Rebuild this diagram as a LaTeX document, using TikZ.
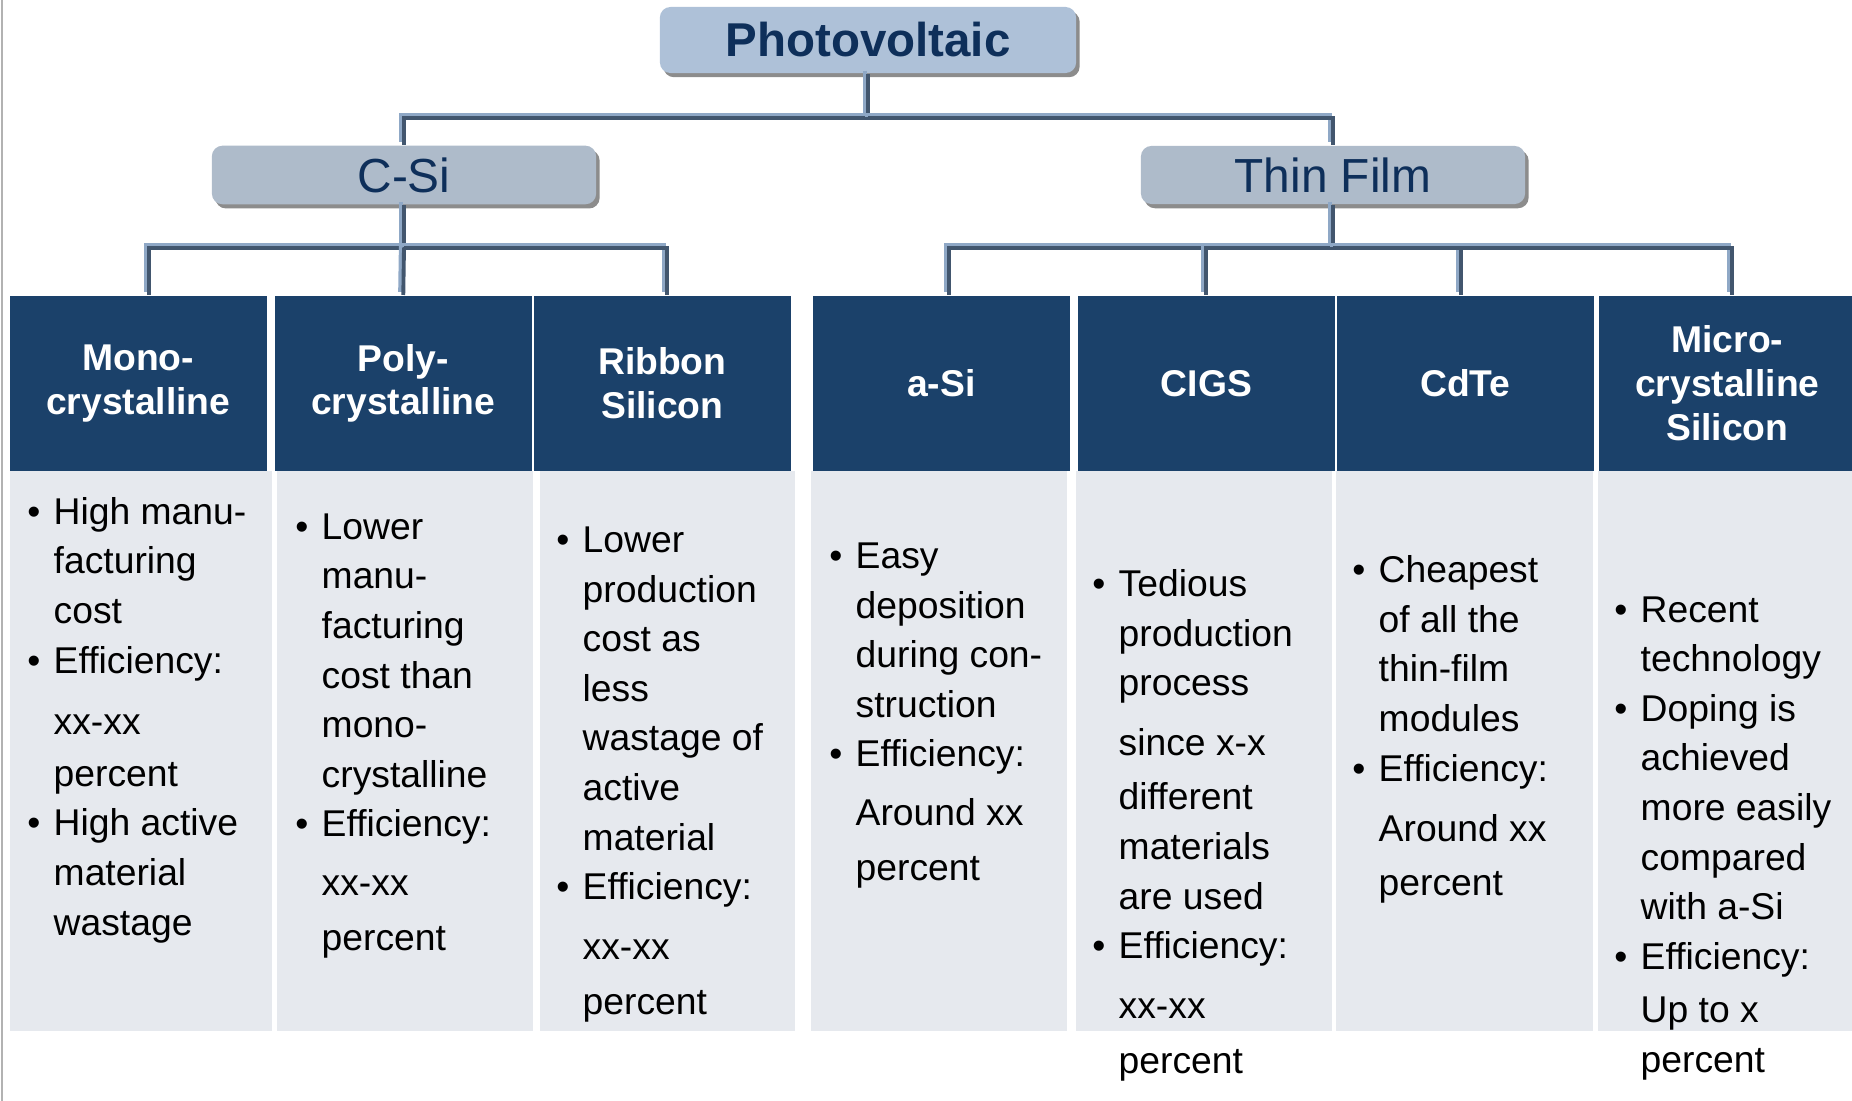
\documentclass[tikz,border=0pt]{standalone}
\usepackage{fontspec}
\setmainfont{Liberation Sans}
\usetikzlibrary{positioning,shadows}

\definecolor{pvnavy}{HTML}{1B416A}
\definecolor{pvtext}{HTML}{0E2F5A}
\definecolor{pvroot}{HTML}{AEC1D8}
\definecolor{pvgroup}{HTML}{AEBBCA}
\definecolor{pvbody}{HTML}{E6E9EE}
\definecolor{pvlinkhi}{HTML}{8FA8C6}
\definecolor{pvlinklo}{HTML}{42566E}

\newcommand{\pvitem}{\llap{\textbullet\hspace{3.8pt}}}

\begin{document}
\begin{tikzpicture}[
  x=0.01cm, y=-0.01cm,
  rootbox/.style={rectangle, rounded corners=3pt, fill=pvroot, text=pvtext, minimum width=4.16cm, minimum height=0.66cm, font=\bfseries\fontsize{13.5pt}{15pt}\selectfont, drop shadow={shadow xshift=1pt, shadow yshift=-1.2pt, fill=black!45, opacity=1}},
  groupbox/.style={rootbox, fill=pvgroup, minimum width=3.84cm, minimum height=0.51cm, font=\fontsize{13.6pt}{15pt}\selectfont},
  headbox/.style={rectangle, fill=pvnavy, text=white, anchor=north west, inner sep=0pt, minimum width=2.57cm, minimum height=1.75cm, align=center, font=\bfseries\fontsize{10.6pt}{12.4pt}\selectfont},
  bodybox/.style={rectangle, fill=pvbody, anchor=north west, inner sep=0pt, minimum width=2.57cm, minimum height=5.6cm},
  bodytext/.style={anchor=base west, align=left, inner sep=0pt, font=\fontsize{10.6pt}{14.1pt}\selectfont},
  link/.style={draw=pvlinklo, line width=1.1pt, preaction={draw=pvlinkhi, line width=1.1pt, transform canvas={xshift=-0.9pt, yshift=0.9pt}}}
]
  \useasboundingbox (0,0) rectangle (1852,1101);
  \draw[gray!60, line width=0.6pt] (2,0) -- (2,1101);

  % top levels
  \node[rootbox] (pv) at (868,40) {Photovoltaic};
  \node[groupbox] (csi) at (404,175) {C-Si};
  \node[groupbox] (tf) at (1333,175) {Thin Film};

  % column heads
  \node[headbox] (mono) at (9,295) {Mono-\\crystalline};
  \node[headbox] (poly) at (274,295) {Poly-\\crystalline};
  \node[headbox] (ribbon) at (533,295) {Ribbon\\Silicon};
  \node[headbox] (asi) at (812,295) {a-Si};
  \node[headbox] (cigs) at (1077,295) {CIGS};
  \node[headbox] (cdte) at (1336,295) {CdTe};
  \node[headbox] (micro) at (1598,295) {Micro-\\crystalline\\Silicon};

  % column bodies
  \node[bodybox, minimum width=2.62cm] (monobody) at (9,470) {};
  \node[bodybox, minimum width=2.56cm] (polybody) at (276,470) {};
  \node[bodybox, minimum width=2.55cm] (ribbonbody) at (539,470) {};
  \node[bodybox, minimum width=2.56cm] (asibody) at (810,470) {};
  \node[bodybox, minimum width=2.56cm] (cigsbody) at (1075,470) {};
  \node[bodybox, minimum width=2.57cm] (cdtebody) at (1335,470) {};
  \node[bodybox] (microbody) at (1597,470) {};

  % texts sit on the baseline of their last line
  \node[bodytext] (monotxt) at (53,935) {\pvitem High manu-\\facturing\\cost\\\pvitem Efficiency:\\[3.3pt]xx-xx\\[0.7pt]percent\\\pvitem High active\\material\\wastage};
  \node[bodytext] (polytxt) at (321,950) {\pvitem Lower\\manu-\\facturing\\cost than\\mono-\\crystalline\\\pvitem Efficiency:\\[2.7pt]xx-xx\\[1.3pt]percent};
  \node[bodytext] (ribbontxt) at (582,1014) {\pvitem Lower\\production\\cost as\\less\\wastage of\\active\\material\\\pvitem Efficiency:\\[3pt]xx-xx\\[1.3pt]percent};
  \node[bodytext] (asitxt) at (855,880) {\pvitem Easy\\deposition\\during con-\\struction\\\pvitem Efficiency:\\[2.7pt]Around xx\\[1.3pt]percent};
  \node[bodytext] (cigstxt) at (1118,1073) {\pvitem Tedious\\production\\process\\[3pt]since x-x\\[1.3pt]different\\materials\\are used\\\pvitem Efficiency:\\[3pt]xx-xx\\[1.3pt]percent};
  \node[bodytext] (cdtetxt) at (1378,896) {\pvitem Cheapest\\of all the\\thin-film\\modules\\\pvitem Efficiency:\\[3pt]Around xx\\[1.5pt]percent};
  \node[bodytext] (microtxt) at (1640,1072) {\pvitem Recent\\technology\\\pvitem Doping is\\achieved\\more easily\\compared\\with a-Si\\\pvitem Efficiency:\\[1pt]Up to x\\percent};

  % tree links
  \coordinate (bus0) at (0,118);
  \coordinate (bus1) at (0,248);
  \draw[link] (pv.south) -- (pv.south |- bus0) -| (csi.north);
  \draw[link] (pv.south |- bus0) -| (tf.north);
  \draw[link] (csi.south) -- (csi.south |- bus1) -| ([xshift=0.11cm]mono.north);
  \draw[link] (csi.south |- bus1) -- (poly.north);
  \draw[link] (csi.south |- bus1) -| ([xshift=0.045cm]ribbon.north);
  \draw[link] (tf.south) -- (tf.south |- bus1) -| ([xshift=0.075cm]asi.north);
  \draw[link] (tf.south |- bus1) -| (cigs.north);
  \draw[link] (tf.south |- bus1) -| ([xshift=-0.04cm]cdte.north);
  \draw[link] (tf.south |- bus1) -| ([xshift=0.045cm]micro.north);
\end{tikzpicture}
\end{document}
